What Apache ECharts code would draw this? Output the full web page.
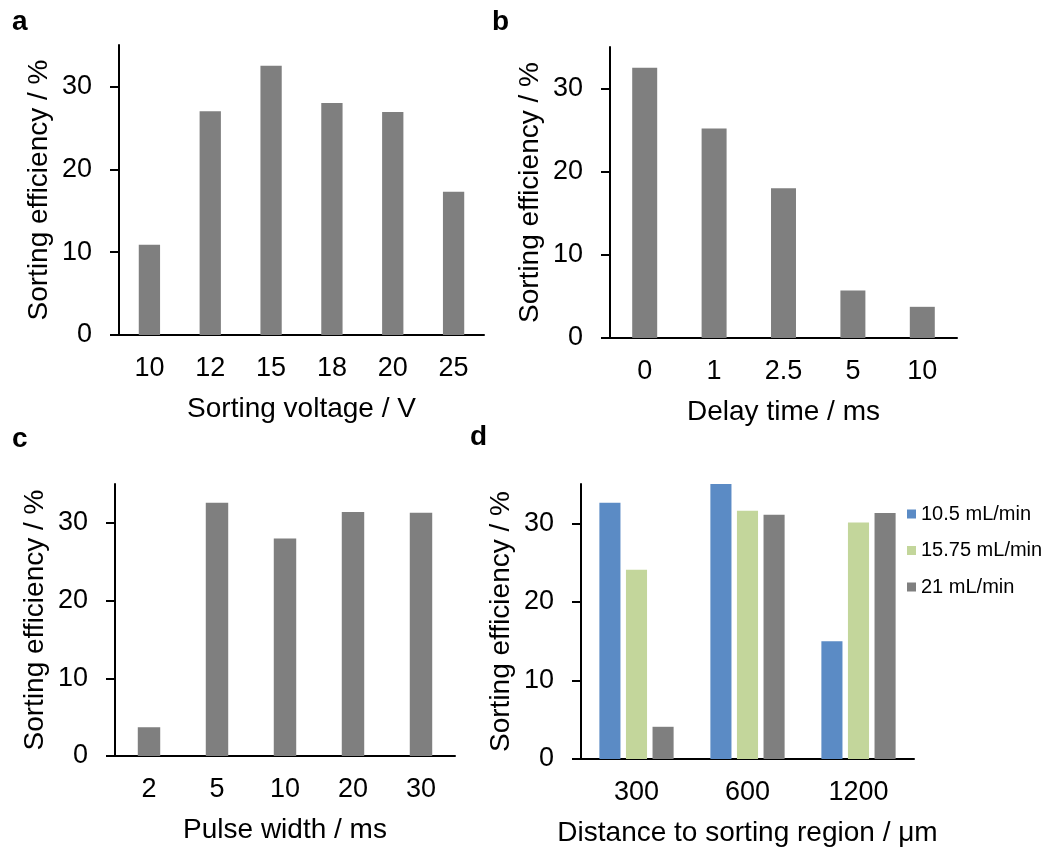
<!DOCTYPE html>
<html>
<head>
<meta charset="utf-8">
<script src="https://cdn.jsdelivr.net/npm/echarts@6/dist/echarts.min.js"></script>
<style>
  html, body { margin: 0; padding: 0; background: #fff; }
  #chart { width: 1052px; height: 849px; }
</style>
</head>
<body>
<div id="chart"></div>
<script>
// values
const voltageCats = ['10', '12', '15', '18', '20', '25'];
const voltageEff = [10.9, 27.0, 32.5, 28.0, 26.9, 17.3];

const delayCats = ['0', '1', '2.5', '5', '10'];
const delayEff = [32.5, 25.2, 18.0, 5.7, 3.75];

const pulseCats = ['2', '5', '10', '20', '30'];
const pulseEff = [3.7, 32.6, 28.0, 31.4, 31.3];

const distanceCats = ['300', '600', '1200'];
const flowNames = ['10.5 mL/min', '15.75 mL/min', '21 mL/min'];
const flow105 = [32.6, 35.0, 15.0];
const flow1575 = [24.1, 31.6, 30.1];
const flow21 = [4.1, 31.1, 31.3];

const yTicks = [0, 10, 20, 30];
const panelLetters = ['a', 'b', 'c', 'd'];

const FONT = '"Liberation Sans", Arial, sans-serif';
const GRAY = '#7f7f7f';
const BLUE = '#5b8bc5';
const GREEN = '#c3d69b';

const grids = [
  { left: 119, top: 45, width: 365, height: 290 },
  { left: 610, top: 47, width: 347, height: 291 },
  { left: 115, top: 484, width: 340, height: 272 },
  { left: 581, top: 484, width: 333, height: 275 },
];
const xNames = ['Sorting voltage / V', 'Delay time / ms', 'Pulse width / ms', 'Distance to sorting region / μm'];
const xCats = [voltageCats, delayCats, pulseCats, distanceCats];

const axisLine = { lineStyle: { color: '#000', width: 2 } };

const xAxis = xCats.map((cats, i) => ({
  type: 'category',
  gridIndex: i,
  data: cats,
  axisLine,
  axisTick: { show: false },
  axisLabel: { color: '#000', fontSize: 27, fontFamily: FONT, margin: 20 },
  name: xNames[i],
  nameLocation: 'middle',
  nameGap: 60,
  nameTextStyle: { color: '#000', fontSize: 28, fontFamily: FONT },
}));

const yAxis = grids.map((g, i) => ({
  type: 'value',
  gridIndex: i,
  min: 0,
  max: 35,
  interval: 10,
  axisLine: { show: true, lineStyle: { color: '#000', width: 2 } },
  axisTick: { show: true, length: 9, lineStyle: { color: '#000', width: 2 }, customValues: yTicks },
  axisLabel: { color: '#000', fontSize: 27, fontFamily: FONT, margin: 27, customValues: yTicks },
  splitLine: { show: false },
  name: 'Sorting efficiency / %',
  nameLocation: 'middle',
  nameRotate: 90,
  nameGap: 66,
  nameTextStyle: { color: '#000', fontSize: 28, fontFamily: FONT },
}));

const letterPos = [
  { left: 12, top: 8 },
  { left: 492, top: 8 },
  { left: 12, top: 425 },
  { left: 470, top: 423 },
];

const option = {
  animation: false,
  backgroundColor: '#fff',
  grid: grids,
  xAxis,
  yAxis,
  legend: {
    data: flowNames,
    orient: 'vertical',
    left: 907,
    top: 504,
    padding: 0,
    itemWidth: 9,
    itemHeight: 9,
    itemGap: 16.5,
    icon: 'rect',
    textStyle: { color: '#000', fontSize: 20, fontFamily: FONT },
  },
  graphic: panelLetters.map((t, i) => ({
    type: 'text',
    left: letterPos[i].left,
    top: letterPos[i].top,
    style: { text: t, font: 'bold 28px ' + FONT, fill: '#000' },
  })),
  series: [
    { type: 'bar', xAxisIndex: 0, yAxisIndex: 0, data: voltageEff, barWidth: '35%', itemStyle: { color: GRAY } },
    { type: 'bar', xAxisIndex: 1, yAxisIndex: 1, data: delayEff, barWidth: '36%', itemStyle: { color: GRAY } },
    { type: 'bar', xAxisIndex: 2, yAxisIndex: 2, data: pulseEff, barWidth: '33%', itemStyle: { color: GRAY } },
    { type: 'bar', name: flowNames[0], xAxisIndex: 3, yAxisIndex: 3, data: flow105, barWidth: '19%', barGap: '26%', itemStyle: { color: BLUE } },
    { type: 'bar', name: flowNames[1], xAxisIndex: 3, yAxisIndex: 3, data: flow1575, barWidth: '19%', barGap: '26%', itemStyle: { color: GREEN } },
    { type: 'bar', name: flowNames[2], xAxisIndex: 3, yAxisIndex: 3, data: flow21, barWidth: '19%', barGap: '26%', itemStyle: { color: GRAY } },
  ],
};

const chart = echarts.init(document.getElementById('chart'), null, { renderer: 'canvas' });
chart.setOption(option);
window.addEventListener('resize', () => chart.resize());
</script>
</body>
</html>
